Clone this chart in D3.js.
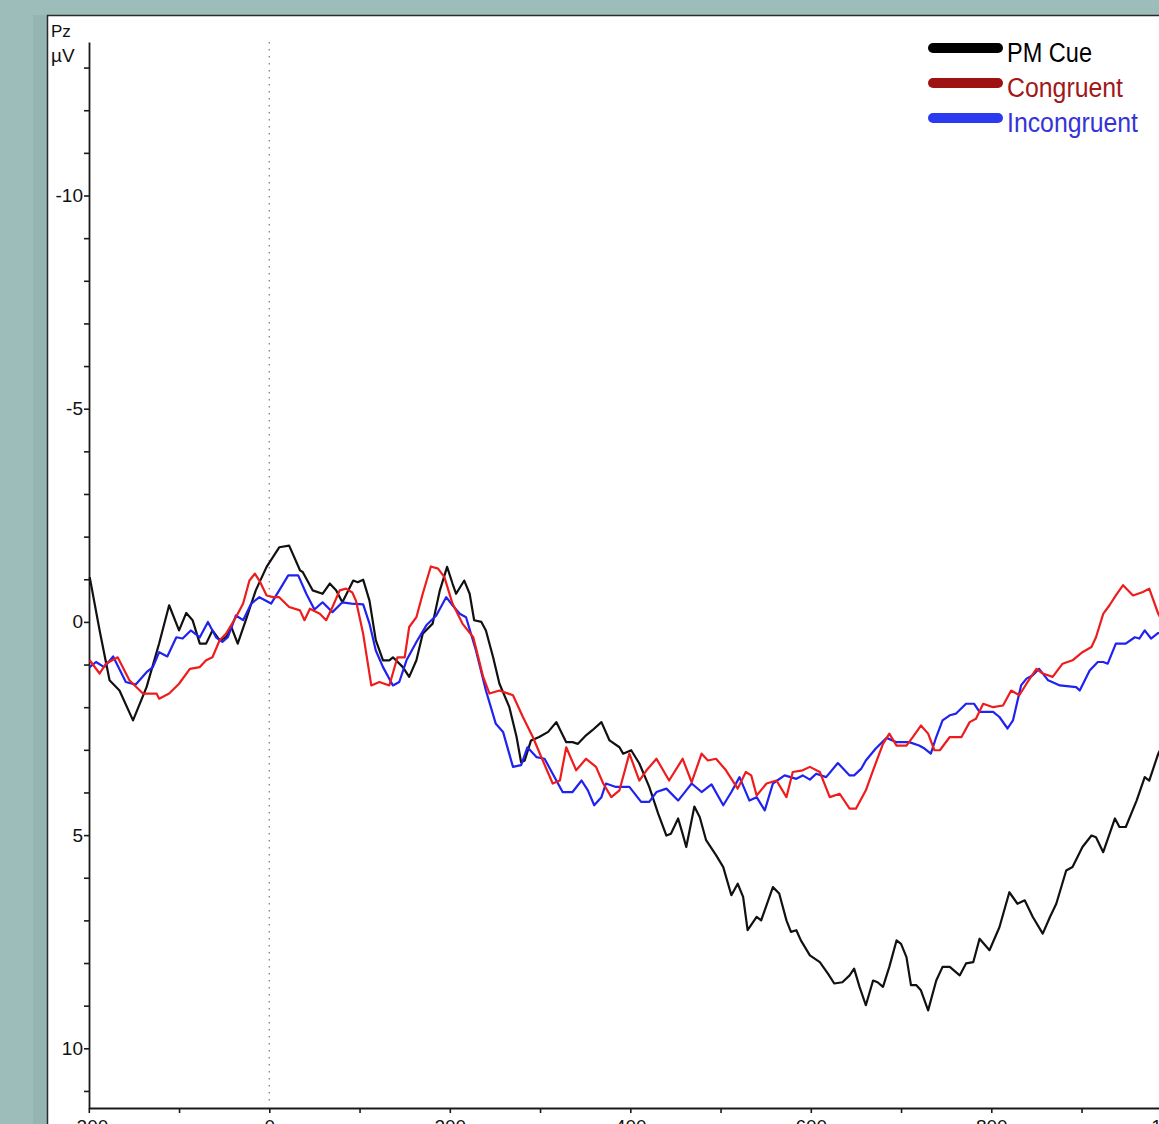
<!DOCTYPE html>
<html>
<head>
<meta charset="utf-8">
<script src="https://cdn.jsdelivr.net/npm/d3@7"></script>
<style>
html,body{margin:0;padding:0;background:#9cbdba;}
svg{display:block;font-family:"Liberation Sans",Arial,sans-serif;}
</style>
</head>
<body>
<svg id="chart" width="1159" height="1124"></svg>
<script>
// ---- Data (time in ms, amplitude in µV; negative plotted upward) ----
const pmCueT = [-199,-188,-177,-166,-151,-136,-122,-111,-100,-92,-85,-77,-70,-63,-55,-48,-42,-35,-26,-15,-3,11,22,34,37,48,59,67,74,81,93,98,104,111,118,126,133,137,148,155,163,170,181,189,197,203,207,216,222,227,235,240,248,255,266,274,279,283,290,299,309,318,329,336,342,351,358,368,377,388,392,401,410,421,431,440,445,453,458,462,471,477,484,495,503,512,519,525,530,540,545,558,565,573,578,584,589,599,610,619,626,635,643,648,654,661,669,674,680,687,695,700,706,711,717,722,730,739,746,754,765,772,780,787,798,809,820,829,837,846,857,865,872,883,890,901,911,916,924,937,942,949,961,970,975,985,992];
const pmCueV = [-1.05,0.20,1.37,1.61,2.31,1.53,0.50,-0.39,0.20,-0.21,-0.04,0.51,0.51,0.20,0.43,0.36,0.12,0.51,-0.04,-0.74,-1.29,-1.75,-1.79,-1.21,-1.17,-0.74,-0.66,-0.90,-0.74,-0.46,-0.97,-0.93,-0.99,-0.50,0.43,0.90,0.90,0.83,1.06,1.29,0.90,0.28,0.04,-0.74,-1.29,-0.90,-0.66,-0.97,-0.66,-0.04,0.00,0.20,0.83,1.45,2.00,2.70,3.29,3.25,2.78,2.70,2.58,2.35,2.82,2.82,2.86,2.66,2.54,2.35,2.78,2.94,3.09,3.01,3.32,3.87,4.50,5.01,4.97,4.61,4.97,5.28,4.33,4.58,5.12,5.47,5.75,6.41,6.14,6.45,7.23,6.92,7.00,6.22,6.37,7.00,7.27,7.23,7.47,7.82,7.98,8.25,8.48,8.45,8.29,8.13,8.56,8.99,8.41,8.45,8.56,8.09,7.47,7.55,7.86,8.52,8.52,8.64,9.11,8.41,8.09,8.09,8.29,8.01,7.98,7.43,7.70,7.16,6.34,6.61,6.53,6.92,7.31,6.92,6.61,5.83,5.75,5.28,5.01,5.05,5.40,4.61,4.81,4.81,4.19,3.64,3.72,3.09,2.80];

const congT = [-199,-188,-181,-168,-155,-140,-125,-122,-111,-100,-88,-77,-70,-63,-55,-48,-37,-29,-22,-16,-11,-3,4,11,22,34,39,45,56,63,70,78,85,92,96,104,113,122,133,142,150,155,163,170,179,187,194,203,214,226,237,244,255,270,281,292,303,314,322,329,340,351,362,370,379,388,399,410,418,429,443,458,468,479,486,495,506,519,528,534,540,551,562,573,580,591,599,610,621,632,643,650,661,669,680,687,695,706,713,722,730,737,743,754,767,776,783,791,802,813,822,831,839,850,857,868,879,890,901,911,916,924,931,938,946,957,968,975,985,992];
const congV = [0.90,1.21,0.98,0.83,1.37,1.68,1.68,1.80,1.68,1.45,1.10,1.06,0.90,0.83,0.43,0.28,-0.11,-0.43,-0.97,-1.13,-0.97,-0.62,-0.58,-0.58,-0.35,-0.27,-0.04,-0.31,-0.19,-0.04,-0.35,-0.74,-0.78,-0.69,-0.50,0.28,1.49,1.41,1.49,0.83,0.83,0.12,-0.11,-0.66,-1.30,-1.25,-1.05,-0.43,0.04,0.36,1.29,1.68,1.61,1.72,2.23,2.70,3.25,3.79,3.72,2.94,3.48,3.21,3.40,3.79,4.11,3.95,3.09,3.72,3.48,3.21,3.72,3.21,3.76,3.09,3.25,3.21,3.48,3.91,3.52,3.60,4.07,3.79,3.72,4.11,3.52,3.48,3.40,3.52,4.11,4.03,4.38,4.38,3.95,3.48,2.86,2.62,2.90,2.90,2.70,2.43,2.62,3.01,3.01,2.70,2.70,2.35,2.27,1.92,2.00,1.96,1.61,1.72,1.45,1.10,1.21,1.29,0.98,0.90,0.71,0.59,0.36,-0.19,-0.39,-0.62,-0.86,-0.62,-0.70,-0.78,-0.19,0.08];

const incongT = [-199,-192,-183,-173,-159,-148,-136,-129,-122,-113,-103,-96,-87,-77,-68,-59,-52,-46,-37,-29,-20,-11,2,11,21,32,41,50,59,70,81,91,104,111,118,126,137,144,152,163,174,185,196,203,211,218,229,240,251,259,270,279,286,296,305,314,325,336,346,353,360,368,373,384,399,412,421,429,440,453,462,468,479,490,503,512,521,532,540,549,558,571,584,591,599,606,617,630,643,648,656,661,672,684,695,709,720,726,733,739,746,754,761,772,781,787,802,809,818,824,833,839,846,853,863,876,894,898,909,918,924,929,938,949,959,964,970,977,985,992];
const incongV = [1.06,0.94,1.06,0.81,1.41,1.47,1.18,1.06,0.71,0.81,0.36,0.39,0.20,0.36,0.00,0.36,0.47,0.36,-0.15,-0.04,-0.43,-0.58,-0.43,-0.74,-1.09,-1.09,-0.66,-0.29,-0.46,-0.23,-0.46,-0.43,-0.41,0.04,0.67,1.06,1.49,1.41,0.90,0.47,0.08,-0.15,-0.58,-0.39,-0.19,-0.11,0.67,1.61,2.39,2.58,3.40,3.36,2.94,3.17,3.21,3.56,3.99,3.99,3.72,3.95,4.30,4.11,3.79,3.87,3.87,4.22,4.22,3.99,3.91,4.19,3.95,3.79,3.99,3.81,4.30,3.99,3.64,4.19,4.11,4.42,3.79,3.60,3.68,3.60,3.70,3.56,3.64,3.31,3.60,3.60,3.44,3.25,2.97,2.72,2.82,2.82,2.90,2.97,3.09,2.70,2.31,2.19,2.15,1.92,1.92,2.11,2.11,2.23,2.50,2.31,1.49,1.33,1.25,1.10,1.37,1.49,1.53,1.61,1.14,0.94,0.94,0.98,0.51,0.51,0.36,0.39,0.20,0.39,0.26,0.27];

const seriesNames = ["PM Cue","Congruent","Incongruent"];
const xTicks = [-200,-100,0,100,200,300,400,500,600,700,800,900,1000];
const xTickLabels = ["-200","","0","","200","","400","","600","","800","","1000"];
const yTicks = [-13,-12,-11,-10,-9,-8,-7,-6,-5,-4,-3,-2,-1,0,1,2,3,4,5,6,7,8,9,10,11];
const yLabelled = [-10,-5,0,5,10];

// ---- Drawing ----
const svg = d3.select("#chart");
const W = 1159, H = 1124;

svg.append("rect").attr("x",0).attr("y",0).attr("width",W).attr("height",H).attr("fill","#9cbdba");
svg.append("rect").attr("x",33).attr("y",15).attr("width",15).attr("height",H).attr("fill","#94b5b2");
svg.append("rect").attr("x",47.5).attr("y",15.5).attr("width",1200).attr("height",1200)
  .attr("fill","#ffffff").attr("stroke","#2a2a2a").attr("stroke-width",1.5);

const x = d3.scaleLinear().domain([-200,1000]).range([88.8, 88.8 + 1200*0.9025]);
const y = d3.scaleLinear().domain([-13.6,11.4]).range([42,1108]);

svg.append("defs").append("clipPath").attr("id","clip")
  .append("rect").attr("x",48).attr("y",16).attr("width",1200).attr("height",1092);

// zero line
svg.append("line").attr("x1",x(0)).attr("x2",x(0)).attr("y1",42).attr("y2",1106)
  .attr("stroke","#8a8a8a").attr("stroke-width",1.4).attr("stroke-dasharray","1.4,5.6");

// axes
const yAxis = d3.axisLeft(y).tickValues(yTicks)
  .tickFormat(d => yLabelled.includes(d) ? String(d) : "")
  .tickSize(5).tickPadding(1).tickSizeOuter(0);
const gy = svg.append("g").attr("transform","translate(89,0)").call(yAxis);
gy.attr("font-size",null).attr("font-family",null);
gy.select(".domain").attr("stroke","#1a1a1a").attr("stroke-width",1.8);
gy.selectAll(".tick line").attr("stroke","#1a1a1a").attr("stroke-width",1.6);
gy.selectAll(".tick text").style("font-size","19px").attr("fill","#111").style("font-family","Liberation Sans, Arial, sans-serif");

const xAxis = d3.axisBottom(x).tickValues(xTicks)
  .tickFormat((d,i) => xTickLabels[i])
  .tickSize(5).tickPadding(7).tickSizeOuter(0);
const gx = svg.append("g").attr("transform","translate(0,1108)").call(xAxis);
gx.attr("font-size",null).attr("font-family",null);
gx.select(".domain").attr("stroke","#1a1a1a").attr("stroke-width",1.8);
gx.selectAll(".tick line").attr("stroke","#1a1a1a").attr("stroke-width",1.6);
gx.selectAll(".tick text").style("font-size","19px").attr("fill","#111").style("font-family","Liberation Sans, Arial, sans-serif");

// channel / unit labels
svg.append("text").attr("x",51).attr("y",37).style("font-size","17px").attr("fill","#111").text("Pz");
svg.append("text").attr("x",51).attr("y",62).style("font-size","19px").attr("fill","#111").text("µV");

// curves
const line = d3.line().x(d => x(d[0])).y(d => y(d[1])).curve(d3.curveLinear);
const series = [
  {name:seriesNames[0], pts:d3.zip(pmCueT,pmCueV), color:"#111111"},
  {name:seriesNames[1], pts:d3.zip(congT,congV), color:"#ee1c1c"},
  {name:seriesNames[2], pts:d3.zip(incongT,incongV), color:"#1f22f0"}
];
const gc = svg.append("g").attr("clip-path","url(#clip)");
[series[0], series[2], series[1]].forEach(s => {
  gc.append("path").datum(s.pts).attr("d",line).attr("fill","none")
    .attr("stroke",s.color).attr("stroke-width",2.2).attr("stroke-linejoin","round");
});

// legend
const legendLine = ["#000000","#9e1212","#2b3af0"];
const legendText = ["#000000","#a01818","#3434d8"];
const legendLen = [85,116,131];
const legendY = [48,83,118];
seriesNames.forEach((n,i) => {
  svg.append("line").attr("x1",933).attr("x2",998).attr("y1",legendY[i]).attr("y2",legendY[i])
    .attr("stroke",legendLine[i]).attr("stroke-width",10).attr("stroke-linecap","round");
  svg.append("text").attr("x",1007).attr("y",legendY[i]+13.5)
    .style("font-size","27px").attr("fill",legendText[i])
    .attr("textLength",legendLen[i]).attr("lengthAdjust","spacingAndGlyphs").text(n);
});
</script>
</body>
</html>
